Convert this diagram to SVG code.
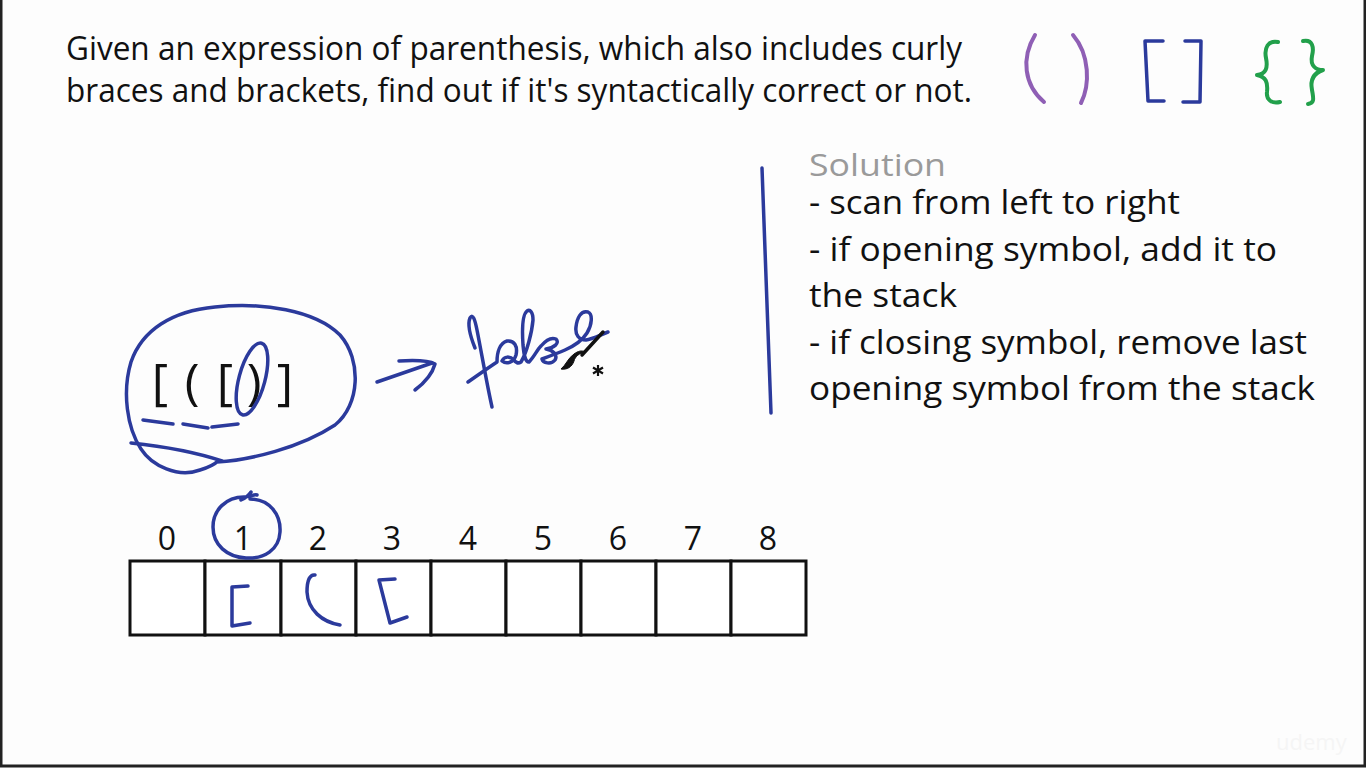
<svg xmlns="http://www.w3.org/2000/svg" width="1366" height="768" viewBox="0 0 1366 768">
  <style>
    .t { font-family: "Open Sans", "Noto Sans", "Liberation Sans", sans-serif; font-size: 32px; fill: #111; }
    .sol { fill: #9a9a9a; font-size: 31px; }
    .num { font-family: "Open Sans", "Noto Sans", "Liberation Sans", sans-serif; font-size: 32px; fill: #111; text-anchor: middle; }
    .expr { font-family: "Open Sans", "Noto Sans", "Liberation Sans", sans-serif; font-size: 50px; fill: #111; text-anchor: middle; }
    .ink { fill: none; stroke: #2b3a9c; stroke-width: 3.5; stroke-linecap: round; stroke-linejoin: round; }
    .purple { fill: none; stroke: #8f5fb5; stroke-width: 4; stroke-linecap: round; stroke-linejoin: round; }
    .green { fill: none; stroke: #22a04b; stroke-width: 4; stroke-linecap: round; stroke-linejoin: round; }
    .cell { fill: #fff; stroke: #111; stroke-width: 3; }
  </style>
  <rect x="0" y="0" width="1366" height="768" fill="#fdfdfd"/>
  <path d="M1,0 V766 H1365 V0" fill="none" stroke="#222" stroke-width="3"/>

  <g id="problem">
    <text class="t" x="66" y="60" textLength="896" lengthAdjust="spacingAndGlyphs">Given an expression of parenthesis, which also includes curly</text>
    <text class="t" x="66" y="102" textLength="906" lengthAdjust="spacingAndGlyphs">braces and brackets, find out if it's syntactically correct or not.</text>
  </g>

  <g id="symbols">
    <path class="purple" d="M1035,35 C1021,58 1024,85 1044,102"/>
    <path class="purple" d="M1073,35 C1090,55 1090,85 1081,103"/>
    <path class="ink" d="M1163,41 L1145,41 L1148,101 L1164,101" stroke-width="4"/>
    <path class="ink" d="M1185,41 L1201,41 L1200,102 L1183,102" stroke-width="4"/>
    <path class="green" d="M1278,42 C1268,40 1264,48 1266,58 C1268,68 1266,74 1257,75 C1266,77 1268,82 1267,92 C1266,100 1272,104 1280,102"/>
    <path class="green" d="M1303,41 C1313,39 1314,48 1312,56 C1310,66 1316,70 1323,70 C1314,73 1310,80 1312,90 C1314,100 1314,103 1308,104"/>
  </g>

  <g id="divider">
    <path class="ink" d="M762,168 L771,413" stroke-width="3.5"/>
  </g>

  <g id="solution">
    <text class="t sol" x="809" y="176" textLength="137" lengthAdjust="spacingAndGlyphs">Solution</text>
    <text class="t" x="809" y="214" textLength="371" lengthAdjust="spacingAndGlyphs">- scan from left to right</text>
    <text class="t" x="809" y="261" textLength="468" lengthAdjust="spacingAndGlyphs">- if opening symbol, add it to</text>
    <text class="t" x="809" y="307" textLength="148" lengthAdjust="spacingAndGlyphs">the stack</text>
    <text class="t" x="809" y="354" textLength="498" lengthAdjust="spacingAndGlyphs">- if closing symbol, remove last</text>
    <text class="t" x="809" y="400" textLength="506" lengthAdjust="spacingAndGlyphs">opening symbol from the stack</text>
  </g>

  <g id="expression">
    <text class="expr" x="160" y="399">[</text>
    <text class="expr" x="192" y="399">(</text>
    <text class="expr" x="225" y="399">[</text>
    <text class="expr" x="254" y="399">)</text>
    <text class="expr" x="285" y="399">]</text>
    <ellipse class="ink" cx="252" cy="379" rx="13" ry="37" transform="rotate(15 252 379)"/>
    <path class="ink" d="M143,420 L173,424"/>
    <path class="ink" d="M183,424 L208,428"/>
    <path class="ink" d="M212,427 L238,424"/>
    <path class="ink" d="M217,462 C250,460 300,448 335,425 C360,405 362,360 340,335 C315,310 262,302 215,307 C172,311 142,330 131,362 C122,392 127,428 141,449 C152,466 178,478 200,470 C210,467 215,464 218,461"/>
    <path class="ink" d="M131,443 C160,446 195,452 222,461"/>
  </g>

  <g id="connectors">
    <path class="ink" d="M377,382 L432,363"/>
    <path class="ink" d="M399,361 C415,360 428,360 435,364 C432,375 423,384 415,390"/>
  </g>

  <g id="result">
    <path class="ink" d="M492,407 C487,385 481,350 477,330 C475,320 473,313 470,318 C467,325 471,338 475,348"/>
    <path class="ink" d="M468,382 C478,375 488,368 497,362 C497,352 500,343 507,341 C514,340 518,346 516,355 C514,362 507,365 502,361 C504,356 510,356 514,360 C516,363 518,364 521,362 C527,352 532,332 533,320 C533,312 530,309 527,311 C522,315 522,330 523,345 C524,355 525,362 529,362 C534,357 537,350 541,346 C546,340 551,337 556,339 C560,343 554,348 546,349 C553,350 558,355 555,360 C551,365 543,363 542,359 C550,356 558,353 565,350 C574,346 582,341 587,333 C592,325 593,314 588,312 C581,310 577,318 576,327 C575,335 579,340 586,340 C592,339 600,335 608,332"/>
    <path d="M603,332 L582,355" stroke="#111" stroke-width="3.5" stroke-linecap="round"/>
    <path d="M585,352 C579,353 575,357 574,361 C572,367 567,370 561,369 C566,365 568,358 574,354 C578,351 582,350 585,352 Z" fill="#111" stroke="#111" stroke-width="1"/>
    <path d="M598,365 V376 M593,367.5 L603,373.5 M593,373.5 L603,367.5" stroke="#111" stroke-width="2.2"/>
  </g>

  <g id="stack">
    <rect class="cell" x="130" y="561" width="75" height="74"/>
    <rect class="cell" x="205" y="561" width="76" height="74"/>
    <rect class="cell" x="281" y="561" width="75" height="74"/>
    <rect class="cell" x="356" y="561" width="75" height="74"/>
    <rect class="cell" x="431" y="561" width="75" height="74"/>
    <rect class="cell" x="506" y="561" width="75" height="74"/>
    <rect class="cell" x="581" y="561" width="75" height="74"/>
    <rect class="cell" x="656" y="561" width="75" height="74"/>
    <rect class="cell" x="731" y="561" width="75" height="74"/>
    <text class="num" x="167" y="550">0</text>
    <text class="num" x="243" y="550">1</text>
    <text class="num" x="318" y="550">2</text>
    <text class="num" x="392" y="550">3</text>
    <text class="num" x="468" y="550">4</text>
    <text class="num" x="543" y="550">5</text>
    <text class="num" x="618" y="550">6</text>
    <text class="num" x="693" y="550">7</text>
    <text class="num" x="768" y="550">8</text>
    <path class="ink" d="M250,499 C270,499 281,515 280,532 C279,550 264,559 246,558 C227,557 213,545 213,527 C213,510 226,497 244,497 C250,497 254,494 257,495 M241,500 C246,498 249,495 251,492"/>
    <path class="ink" d="M248,586 L232,587 L232,626 L250,623"/>
    <path class="ink" d="M315,575 C310,574 307,580 307,592 C308,610 322,622 340,625"/>
    <path class="ink" d="M395,579 L379,580 L390,623 L407,617"/>
  </g>

  <text x="1276" y="750" font-family="Open Sans, sans-serif" font-size="22" fill="#f5f5f5">udemy</text>
</svg>
